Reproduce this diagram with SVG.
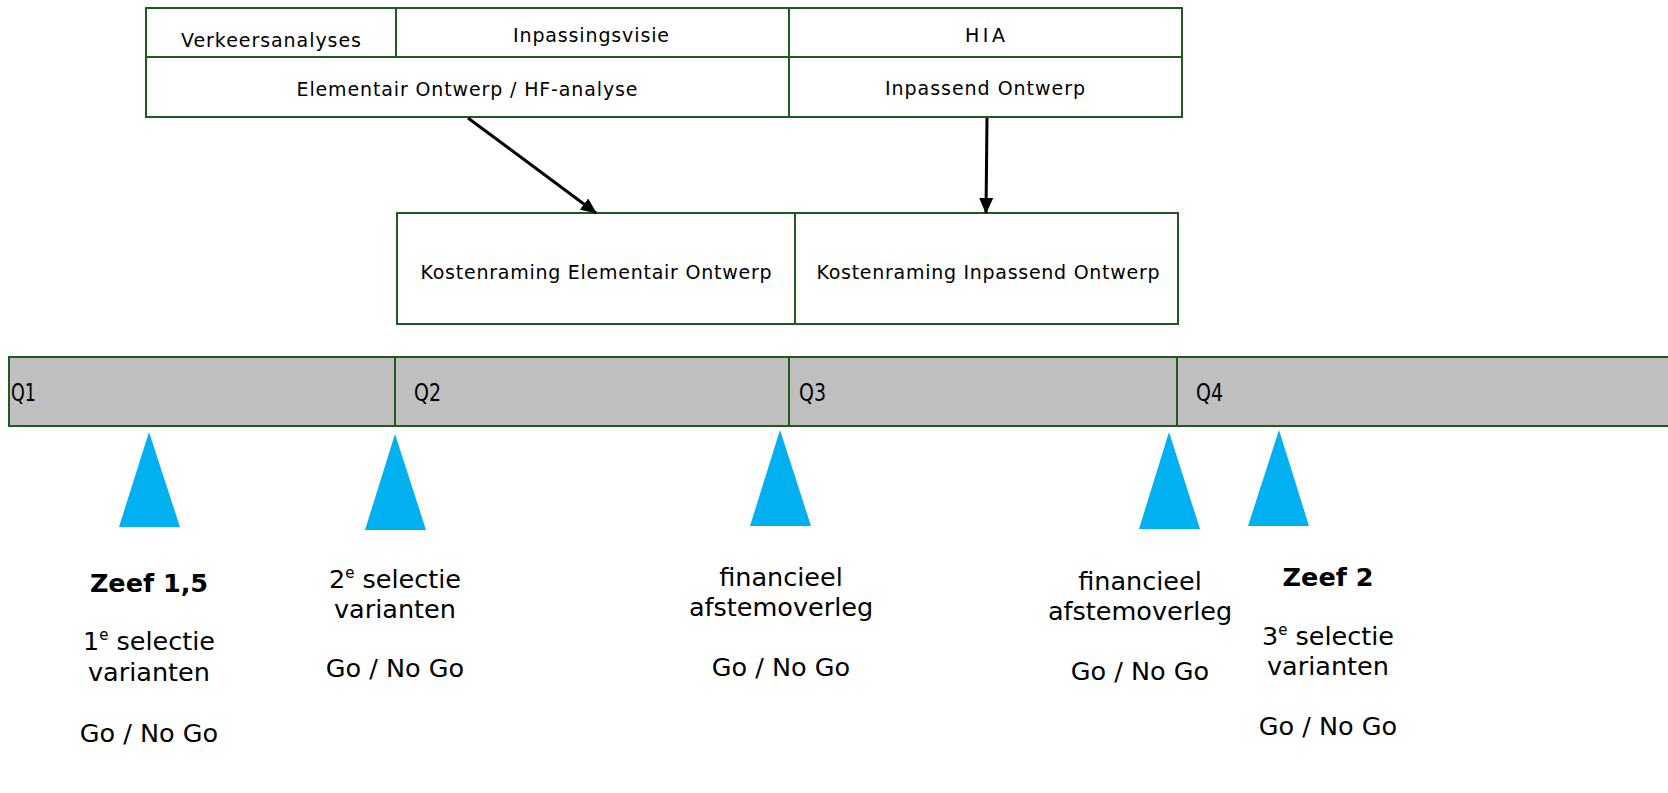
<svg xmlns="http://www.w3.org/2000/svg" width="1668" height="793" viewBox="0 0 1668 793">
<style>
.box{fill:#fff;stroke:#1f5a1f;stroke-width:2}
.div{stroke:#1f5a1f;stroke-width:2;fill:none}
.bar{fill:#bfbfbf;stroke:#1f5a1f;stroke-width:2}
.t{font-family:"DejaVu Sans",Verdana,sans-serif;font-size:19px;fill:#000;text-anchor:middle}
.q{font-family:"DejaVu Sans",Verdana,sans-serif;font-size:25px;fill:#000}
.l{font-family:"DejaVu Sans",Verdana,sans-serif;font-size:25.5px;fill:#000;text-anchor:middle}
.b{font-weight:bold}
.tri{fill:#00b0f0}
.arr{stroke:#000;stroke-width:3;fill:none;marker-end:url(#ah)}
</style>
<defs>
<marker id="ah" markerWidth="16" markerHeight="14" refX="15" refY="7" orient="auto" markerUnits="userSpaceOnUse" viewBox="0 0 16 14">
<path d="M0,0 L16,7 L0,14 z" fill="#000"/>
</marker>
</defs>
<rect width="1668" height="793" fill="#fff"/>

<g id="top-block">
<rect class="box" x="146" y="8" width="1036" height="109"/>
<line class="div" x1="146" y1="57" x2="1182" y2="57"/>
<line class="div" x1="396" y1="8" x2="396" y2="57"/>
<line class="div" x1="789" y1="8" x2="789" y2="117"/>
</g>
<g id="verkeersanalyses"><text class="t" x="271" y="47" textLength="180" lengthAdjust="spacing">Verkeersanalyses</text></g>
<g id="inpassingsvisie"><text class="t" x="591" y="42" textLength="156" lengthAdjust="spacing">Inpassingsvisie</text></g>
<g id="hia"><text class="t" x="985" y="42" textLength="40" lengthAdjust="spacing">HIA</text></g>
<g id="elementair-ontwerp"><text class="t" x="467" y="96" textLength="341" lengthAdjust="spacing">Elementair Ontwerp / HF-analyse</text></g>
<g id="inpassend-ontwerp"><text class="t" x="985" y="95" textLength="200" lengthAdjust="spacing">Inpassend Ontwerp</text></g>

<g id="kostenraming-eo">
<rect class="box" x="397" y="213" width="398" height="111"/>
<text class="t" x="596" y="279" textLength="351" lengthAdjust="spacing">Kostenraming Elementair Ontwerp</text>
</g>
<g id="kostenraming-io">
<rect class="box" x="795" y="213" width="383" height="111"/>
<text class="t" x="988" y="279" textLength="343" lengthAdjust="spacing">Kostenraming Inpassend Ontwerp</text>
</g>

<g id="connectors">
<line class="arr" x1="468" y1="118" x2="596" y2="213"/>
<line class="arr" x1="987" y1="118" x2="986" y2="213"/>
</g>

<g id="timeline">
<rect class="bar" x="9" y="357" width="1670" height="69"/>
<line class="div" x1="395" y1="357" x2="395" y2="426"/>
<line class="div" x1="789" y1="357" x2="789" y2="426"/>
<line class="div" x1="1177" y1="357" x2="1177" y2="426"/>
<text class="q" x="11" y="401" textLength="25" lengthAdjust="spacingAndGlyphs">Q1</text>
<text class="q" x="414" y="401" textLength="27" lengthAdjust="spacingAndGlyphs">Q2</text>
<text class="q" x="799" y="401" textLength="27" lengthAdjust="spacingAndGlyphs">Q3</text>
<text class="q" x="1196" y="401" textLength="27" lengthAdjust="spacingAndGlyphs">Q4</text>
</g>

<g id="milestone-1">
<polygon class="tri" points="149,432 180,527 119,527"/>
<text class="l b" x="149" y="592">Zeef 1,5</text>
<text class="l" x="149" y="650">1<tspan font-size="15" dy="-10">e</tspan><tspan dy="10"> selectie</tspan></text>
<text class="l" x="149" y="681">varianten</text>
<text class="l" x="149" y="742">Go / No Go</text>
</g>
<g id="milestone-2">
<polygon class="tri" points="395,434 426,530 365,530"/>
<text class="l" x="395" y="588">2<tspan font-size="15" dy="-10">e</tspan><tspan dy="10"> selectie</tspan></text>
<text class="l" x="395" y="618">varianten</text>
<text class="l" x="395" y="677">Go / No Go</text>
</g>
<g id="milestone-3">
<polygon class="tri" points="780,430 811,526 750,526"/>
<text class="l" x="781" y="586">financieel</text>
<text class="l" x="781" y="616">afstemoverleg</text>
<text class="l" x="781" y="676">Go / No Go</text>
</g>
<g id="milestone-4">
<polygon class="tri" points="1169,432 1200,529 1139,529"/>
<text class="l" x="1140" y="590">financieel</text>
<text class="l" x="1140" y="620">afstemoverleg</text>
<text class="l" x="1140" y="680">Go / No Go</text>
</g>
<g id="milestone-5">
<polygon class="tri" points="1279,430 1309,526 1248,526"/>
<text class="l b" x="1328" y="586">Zeef 2</text>
<text class="l" x="1328" y="645">3<tspan font-size="15" dy="-10">e</tspan><tspan dy="10"> selectie</tspan></text>
<text class="l" x="1328" y="675">varianten</text>
<text class="l" x="1328" y="735">Go / No Go</text>
</g>
</svg>
